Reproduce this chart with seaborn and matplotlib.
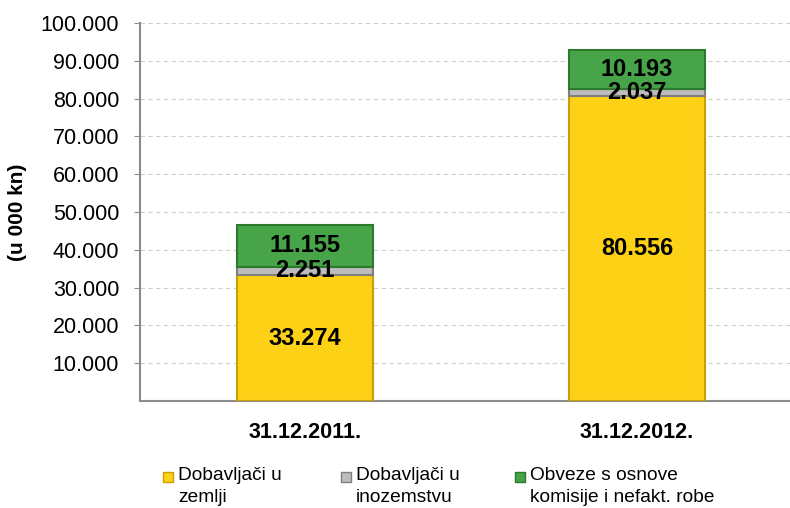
import matplotlib
matplotlib.use('Agg')
import matplotlib.pyplot as plt
import seaborn as sns
import numpy as np
from matplotlib.patches import Rectangle

# podaci
kategorije = ['31.12.2011.', '31.12.2012.']
zemlja = [33274, 80556]
inozemstvo = [2251, 2037]
komisija = [11155, 10193]
serije = ['Dobavljači u\nzemlji', 'Dobavljači u\ninozemstvu', 'Obveze s osnove\nkomisije i nefakt. robe']

boje = ['#FCD116', '#BDBDBD', '#48A448']
rubovi = ['#C8A000', '#7F7F7F', '#2D7A2D']

sns.set_style('white')
plt.rcParams['font.family'] = ['Liberation Sans', 'DejaVu Sans']
plt.rcParams['text.color'] = 'black'
plt.rcParams['xtick.color'] = 'black'
plt.rcParams['ytick.color'] = 'black'
plt.rcParams['axes.labelcolor'] = 'black'

W, H = 790, 508
fig = plt.figure(figsize=(W / 100, H / 100), dpi=100)
ax = fig.add_axes([140 / W, 107 / H, 650 / W, 378 / H])

dno = np.zeros(len(kategorije))
for vrijednosti, boja, rub in zip([zemlja, inozemstvo, komisija], boje, rubovi):
    sns.barplot(x=kategorije, y=vrijednosti, bottom=dno, color=boja, width=0.407,
                edgecolor=rub, linewidth=1.5, saturation=1, ax=ax, zorder=3)
    for i, v in enumerate(vrijednosti):
        ax.text(i, dno[i] + v / 2, f'{v:,}'.replace(',', '.'), ha='center', va='center',
                fontsize=17, fontweight='bold', color='black', zorder=5)
    dno = dno + np.array(vrijednosti)

ax.set_xlim(-0.497, 1.461)
ax.set_ylim(0, 100000)
ax.set_yticks(np.arange(10000, 100001, 10000))
ax.set_yticklabels([f'{t:,}'.replace(',', '.') for t in range(10000, 100001, 10000)], fontsize=15.5)
ax.yaxis.grid(True, linestyle=(0, (4, 3)), color='#CFCFCF', linewidth=0.8, zorder=0)
ax.set_axisbelow(True)
ax.tick_params(axis='y', length=4, color='#8C8C8C', labelcolor='black', pad=11, left=True)
ax.tick_params(axis='x', length=0, pad=15, labelsize=15.5, labelcolor='black')
for lbl in ax.get_xticklabels():
    lbl.set_fontweight('bold')
for s in ['top', 'right']:
    ax.spines[s].set_visible(False)
for s in ['left', 'bottom']:
    ax.spines[s].set_color('#8C8C8C')
    ax.spines[s].set_linewidth(1.5)
ax.set_ylabel('(u 000 kn)', fontsize=15, fontweight='bold', labelpad=10, color='black')

# legenda ispod grafa (ručno, kvadratić uz prvi red teksta)
x_poz = [163, 341, 515]
for x, s, b, r in zip(x_poz, serije, boje, rubovi):
    fig.patches.append(Rectangle((x / W, 1 - 482 / H), 10 / W, 10 / H, transform=fig.transFigure,
                                 facecolor=b, edgecolor=r, linewidth=1))
    fig.text((x + 15) / W, 1 - 467 / H, s, ha='left', va='top', fontsize=13.8,
             linespacing=1.38, color='black')

fig.savefig('out.png', dpi=100)
